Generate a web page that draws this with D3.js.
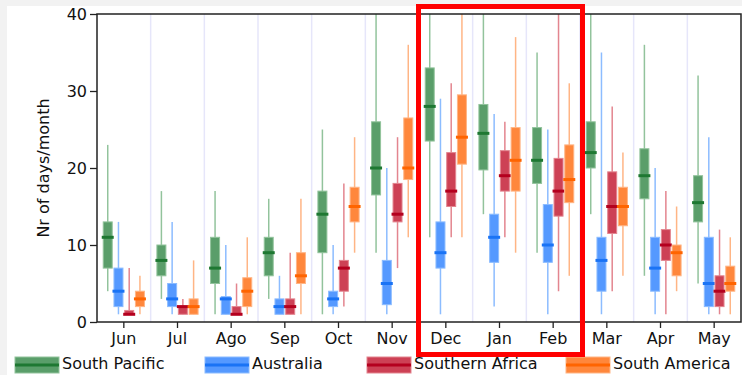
<!DOCTYPE html>
<html>
<head>
<meta charset="utf-8">
<script src="https://cdn.jsdelivr.net/npm/d3@7"></script>
<style>
    body { margin: 0; background: #f2f2f2; }
    svg text { font-family: "DejaVu Sans", sans-serif; }
</style>
</head>
<body>
<div id="chart"></div>
<script>
// months on the x axis
const months = ["Jun", "Jul", "Ago", "Sep", "Oct", "Nov", "Dec", "Jan", "Feb", "Mar", "Apr", "May"];
const yTicks = [0, 10, 20, 30, 40];

// [whisker low, q1, median, q3, whisker high] per month
const southPacific = [
    [4, 7, 11, 13, 23], [3, 6, 8, 10, 17], [1, 5, 7, 11, 17], [3, 6, 9, 11, 16],
    [1, 9, 14, 17, 25], [9, 16.5, 20, 26, 40], [11, 23.5, 28, 33, 40], [14, 19.75, 24.5, 28.25, 40],
    [9, 18, 21, 25.25, 35], [14, 20, 22, 26, 40], [6, 16, 19, 22.5, 36], [5, 13, 15.5, 19, 32]
];
const australia = [
    [1, 2, 4, 7, 13], [1, 2, 3, 5, 13], [1, 1, 3, 3.3, 10], [1, 1, 2, 3, 6],
    [1, 2, 3, 4, 10], [1, 2.25, 5, 8, 20], [1, 7, 9, 13, 29], [2, 7.75, 11, 14, 27],
    [1, 7.75, 10, 15.25, 25], [1, 4, 8, 11, 35], [1, 4, 7, 11, 20], [1, 2, 5, 11, 24]
];
const southernAfrica = [
    [1, 1, 1, 1.5, 7], [1, 1, 2, 2, 3], [1, 1, 1, 2, 5], [1, 1, 2, 3, 9],
    [2, 4, 7, 8, 18], [7, 13, 14, 18, 24], [11, 15, 17, 22, 31], [11, 17, 19, 22.25, 26],
    [4, 13.75, 17, 21.25, 40], [4, 11.5, 15, 19.5, 28], [1, 8, 10, 12, 17], [1, 2, 4, 6, 12]
];
const southAmerica = [
    [1, 2, 3, 4, 6], [1, 1, 2, 3, 8], [1, 2, 4, 5.75, 11], [1, 5, 6, 9, 16],
    [9, 13, 15, 17.5, 24], [11, 18.5, 20, 26.5, 36], [11, 20.5, 24, 29.5, 40], [9, 17, 21, 25.25, 37],
    [6, 15.5, 18.5, 23, 31], [6, 12.5, 15, 17.5, 22], [4, 6, 9, 10, 15], [1, 4, 5, 7.25, 11]
];

const seriesNames = ["South Pacific", "Australia", "Southern Africa", "South America"];

class BoxChart {
    constructor(selector) {
        this.selector = selector;
        this.margin = { top: 14, right: 1, bottom: 53, left: 97 };
        this.width = 742 - this.margin.left - this.margin.right;
        this.height = 375 - this.margin.top - this.margin.bottom;
        this.series = [];
    }

    addSeries(serie) {
        this.series = [...this.series, serie];
    }

    createCanvas() {
        const root = d3.select(this.selector).append("svg")
            .attr("width", 742)
            .attr("height", 375);
        root.append("rect").attr("width", 742).attr("height", 375).attr("fill", "#f2f2f2");
        root.append("rect").attr("x", 7).attr("y", 6).attr("width", 735).attr("height", 369).attr("fill", "#fff");
        this.root = root;
        return root.append("g")
            .attr("transform", "translate(" + this.margin.left + "," + this.margin.top + ")");
    }

    build() {
        const svg = this.createCanvas();

        const x = d3.scaleBand().domain(months).range([0, this.width]);
        const y = d3.scaleLinear().domain([0, 40]).range([this.height, 0]);
        const sub = d3.scalePoint()
            .domain(this.series.map(s => s.name))
            .range([x.bandwidth() * 0.2, x.bandwidth() * 0.8]);
        const boxW = 9;

        // light vertical separators between months
        svg.selectAll(".sep")
            .data(months.slice(1))
            .enter().append("line")
            .attr("x1", d => x(d)).attr("x2", d => x(d))
            .attr("y1", 0).attr("y2", this.height)
            .attr("stroke", "#e6e6fa")
            .attr("stroke-width", 1.5);

        svg.append("clipPath").attr("id", "plotclip")
            .append("rect").attr("width", this.width).attr("height", this.height);

        const plot = svg.append("g").attr("clip-path", "url(#plotclip)");

        for (const serie of this.series) {
            const g = plot.append("g");
            const cx = (_, i) => x(months[i]) + sub(serie.name);

            g.selectAll("line.whisker")
                .data(serie.values)
                .enter().append("line")
                .attr("x1", cx).attr("x2", cx)
                .attr("y1", d => y(d[0])).attr("y2", d => y(d[4]))
                .attr("stroke", serie.whisker)
                .attr("stroke-width", 1.5);

            g.selectAll("rect.box")
                .data(serie.values)
                .enter().append("rect")
                .attr("x", (d, i) => cx(d, i) - boxW / 2)
                .attr("y", d => y(d[3]))
                .attr("width", boxW)
                .attr("height", d => y(d[1]) - y(d[3]))
                .attr("fill", serie.box)
                .attr("stroke", serie.whisker)
                .attr("stroke-width", 1);

            g.selectAll("line.median")
                .data(serie.values)
                .enter().append("line")
                .attr("x1", (d, i) => cx(d, i) - 6).attr("x2", (d, i) => cx(d, i) + 6)
                .attr("y1", d => y(d[2])).attr("y2", d => y(d[2]))
                .attr("stroke", serie.median)
                .attr("stroke-width", 3);
        }

        // axes
        const xAxis = svg.append("g")
            .attr("transform", "translate(0," + this.height + ")")
            .call(d3.axisBottom(x).tickSize(6).tickPadding(5).tickSizeOuter(0));
        const yAxis = svg.append("g")
            .call(d3.axisLeft(y).tickValues(yTicks).tickSize(7).tickPadding(3).tickSizeOuter(0));

        for (const ax of [xAxis, yAxis]) {
            ax.select(".domain").remove();
            ax.selectAll("line").attr("stroke", "#222").attr("stroke-width", 1.3);
            ax.selectAll("text").style("font-size", "16px").attr("fill", "#111");
        }

        // frame
        svg.append("rect")
            .attr("width", this.width).attr("height", this.height)
            .attr("fill", "none")
            .attr("stroke", "#222")
            .attr("stroke-width", 1.5);

        svg.append("text")
            .attr("transform", "translate(-48," + (this.height / 2) + ") rotate(-90)")
            .attr("text-anchor", "middle")
            .style("font-size", "16px")
            .attr("fill", "#111")
            .text("Nr of days/month");

        this.renderLegend();

        // red highlight around the austral summer months
        this.root.append("rect")
            .attr("x", 418.5).attr("y", 6.5)
            .attr("width", 164).attr("height", 348)
            .attr("fill", "none")
            .attr("stroke", "#ff0000")
            .attr("stroke-width", 5);
    }

    renderLegend() {
        const legendX = [15, 205, 367, 566];
        const items = this.root.selectAll(".legend")
            .data(this.series)
            .enter().append("g")
            .attr("transform", (_, i) => "translate(" + legendX[i] + ",357)");

        items.append("rect")
            .attr("width", 44).attr("height", 16)
            .attr("fill", d => d.box)
            .attr("stroke", d => d.whisker)
            .attr("stroke-width", 1);
        items.append("line")
            .attr("x1", 0).attr("x2", 44)
            .attr("y1", 8).attr("y2", 8)
            .attr("stroke", d => d.median)
            .attr("stroke-width", 3);
        items.append("text")
            .attr("x", 47).attr("y", 12)
            .style("font-size", "16px")
            .attr("fill", "#111")
            .text(d => d.name);
    }
}

const chart = new BoxChart("#chart");
chart.addSeries({ name: seriesNames[0], values: southPacific, box: "#5a9e6a", median: "#1e7832", whisker: "#92c39c" });
chart.addSeries({ name: seriesNames[1], values: australia, box: "#5599ff", median: "#1a73f5", whisker: "#8cbcff" });
chart.addSeries({ name: seriesNames[2], values: southernAfrica, box: "#cd4155", median: "#b4001e", whisker: "#e3858f" });
chart.addSeries({ name: seriesNames[3], values: southAmerica, box: "#ff873c", median: "#ff6400", whisker: "#ffb585" });
chart.build();
</script>
</body>
</html>
